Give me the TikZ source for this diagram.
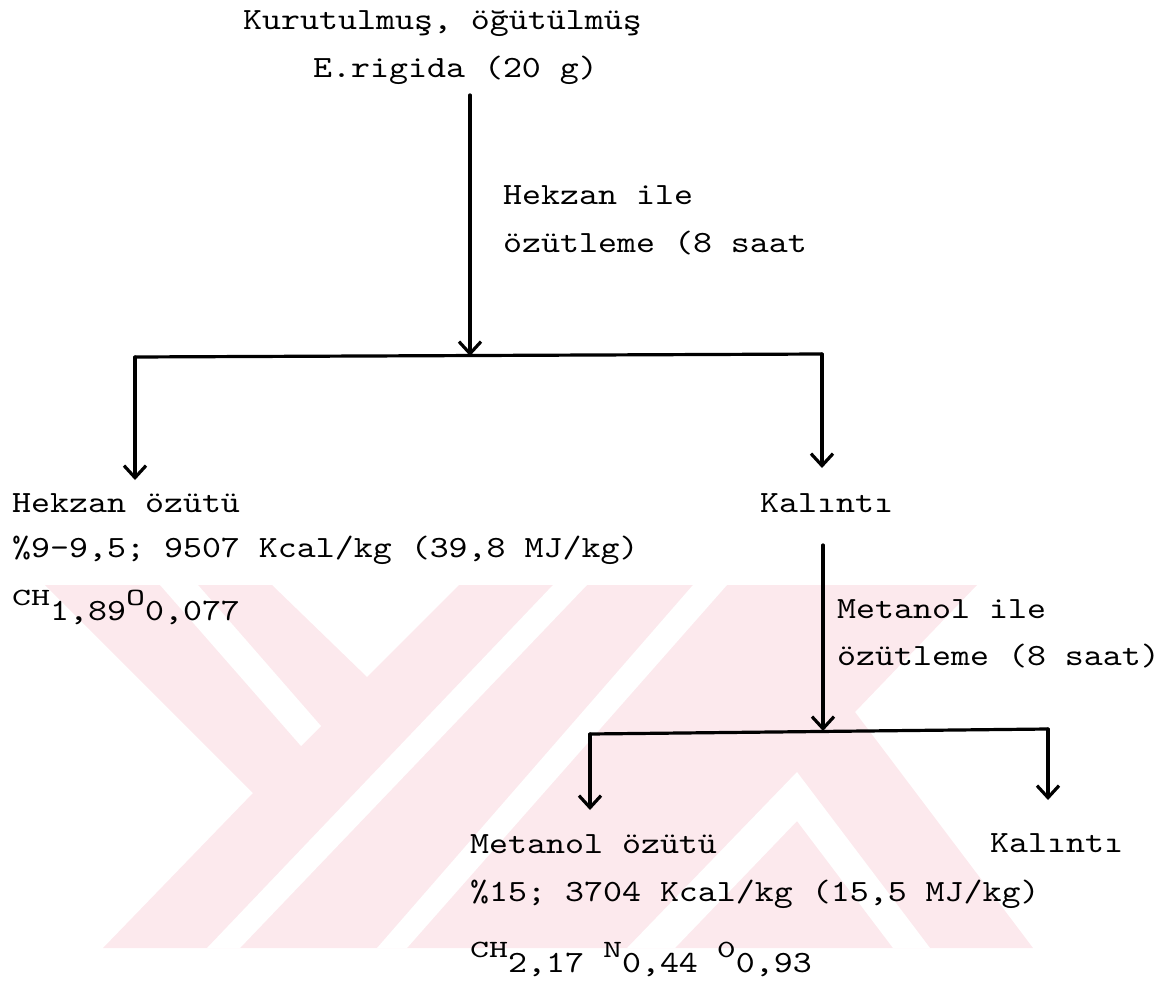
\documentclass[tikz,border=0pt]{standalone}
\usepackage{fontspec}
\usepackage{graphicx}
\newfontfamily\tw{lmmono10-regular.otf}[FakeStretch=1.17]
\usetikzlibrary{arrows.meta}
\definecolor{wmpink}{RGB}{252,233,237}
\newcommand{\upl}[1]{\raisebox{15pt}{\scalebox{1}[0.8]{#1}}}
\begin{document}
\begin{tikzpicture}[x=1pt,y=-1pt,
  txt/.style={font=\tw\fontsize{30.9}{38}\selectfont, inner sep=0pt, anchor=base west, text=black},
  conn/.style={line width=3.2pt, line cap=round, line join=round},
  arr/.style={conn, -{Straight Barb[length=12pt,width=22pt]}}]
\useasboundingbox (0,0) rectangle (1169,984);
% watermark
\fill[wmpink] (45,585) -- (272,585) -- (367,677) -- (459,585) -- (977,585) -- (855,712) -- (1033,948) -- (103,948) -- (253,793) -- cycle;
\fill[white] (160,585) -- (198,585) -- (321,726) -- (301,746) -- cycle;
\fill[white] (553,585) -- (587,585) -- (240,948) -- (207,948) -- cycle;
\fill[white] (693,585) -- (727,585) -- (407,948) -- (377,948) -- cycle;
\fill[white] (627,948) -- (797,772) -- (930,948) -- (893,948) -- (797,821) -- (675,948) -- cycle;
% texts
\node[txt] (start1) at (243,30) {Kurutulmuş, öğütülmüş};
\node[txt] (start2) at (313,78) {E.rigida (20 g)};
\node[txt] (hex1) at (503,205) {Hekzan ile};
\node[txt] (hex2) at (503,253) {özütleme (8 saat};
\node[txt] (hx1) at (12,512) {Hekzan özütü};
\node[txt] (hx2) at (12,557) {\%9-9,5; 9507 Kcal/kg (39,8 MJ/kg)};
\node[txt] (hx3) at (12,620) {\upl{CH}1,89\upl{O}0,077};
\node[txt] (kal1) at (760,512) {Kalıntı};
\node[txt] (met1) at (837,618) {Metanol ile};
\node[txt] (met2) at (837,665) {özütleme (8 saat)};
\node[txt] (mo1) at (470,853) {Metanol özütü};
\node[txt] (mo2) at (470,901) {\%15; 3704 Kcal/kg (15,5 MJ/kg)};
\node[txt] (mo3) at (470,972) {\upl{CH}2,17 \upl{N}0,44 \upl{0}0,93};
\node[txt] (kal2) at (990,852) {Kalıntı};
% connectors
\coordinate (s1) at (470,95);
\coordinate (j1) at (470,356);
\coordinate (hl) at (135,357);
\coordinate (hr) at (822,354);
\coordinate (a1) at (135,480);
\coordinate (a2) at (822,468);
\coordinate (s2) at (823,545);
\coordinate (j2) at (823,731);
\coordinate (gl) at (590,734);
\coordinate (gr) at (1048,729);
\coordinate (b1) at (590,810);
\coordinate (b2) at (1048,800);
\draw[arr] (s1) -- (j1);
\draw[conn] (hl) -- (hr);
\draw[arr] (hl) -- (a1);
\draw[arr] (hr) -- (a2);
\draw[arr] (s2) -- (j2);
\draw[conn] (gl) -- (gr);
\draw[arr] (gl) -- (b1);
\draw[arr] (gr) -- (b2);
\end{tikzpicture}
\end{document}
